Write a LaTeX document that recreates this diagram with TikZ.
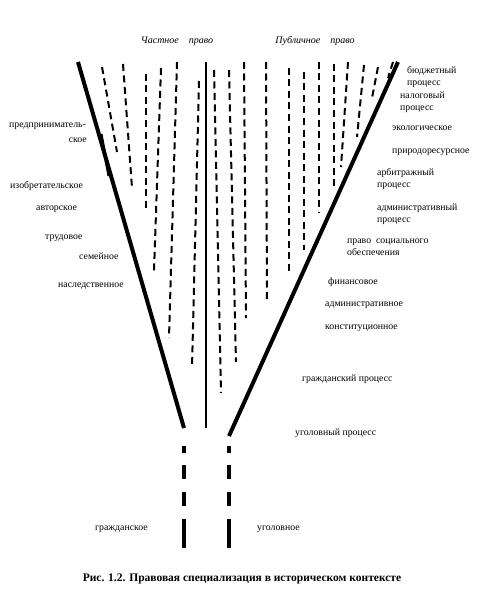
\documentclass[tikz,border=0pt]{standalone}
\usepackage{fontspec}
\setmainfont{Liberation Serif}
\usetikzlibrary{positioning}
\tikzset{
  edge/.style={line width=4pt},
  axis/.style={line width=2.4pt},
  dashln/.style={line width=2pt,dash pattern=on 7pt off 4.5pt},
  lowdash/.style={line width=3.2pt,
    dash pattern=on 7pt off 12pt on 14pt off 13pt on 14pt off 13pt on 29pt},
  lbl/.style={anchor=west,inner sep=0pt,align=left,
    font=\fontsize{9.8}{11.5}\selectfont},
  hdr/.style={inner sep=0pt,font=\fontsize{10}{12}\selectfont\itshape},
  capt/.style={inner sep=0pt,font=\fontsize{11.5}{13}\selectfont\bfseries},
}
\begin{document}
\begin{tikzpicture}[x=1pt,y=-1pt]
\useasboundingbox (0,0) rectangle (481,607);

% funnel
\coordinate (lt) at (78,62);
\coordinate (lb) at (184,428);
\coordinate (rt) at (398,62);
\coordinate (rb) at (229,436);
\coordinate (ct) at (206,62);
\coordinate (cb) at (206,428);
\draw[edge] (lt) -- (lb);
\draw[edge] (rt) -- (rb);
\draw[axis] (ct) -- (cb);
\draw[line width=3pt] (101,134) -- (109,176);

% branches
\foreach \xa/\ya/\xb/\yb in {102/67/117/152, 123/64/132/188, 146/74/146/212,
    161/68/154/271, 177/62/169/338, 199/81/192/368, 214/70/221/393,
    229/70/236/362, 244/62/246/318, 266/62/267/302, 289/68/289/271,
    304/72/304/250, 319/62/319/212, 334/64/334/188, 348/62/341/167,
    364/65/357/137, 378/67/372/98, 393/62/388/78}
  \draw[dashln] (\xa,\ya) -- (\xb,\yb);

% continuation
\coordinate (gt) at (184,446);
\coordinate (gb) at (184,548);
\coordinate (ut) at (229,446);
\coordinate (ub) at (229,548);
\draw[lowdash] (gt) -- (gb);
\draw[lowdash] (ut) -- (ub);

% headings
\node[hdr] (priv) at (177,41) {Частное\quad право};
\node[hdr] (publ) at (315,41) {Публичное\quad право};

% private branches
\node[lbl] (pred) at (9,126) {предприниматель-};
\node[lbl,anchor=east] (pred2) at (87,140) {ское};
\node[lbl] (izob) at (10,186) {изобретательское};
\node[lbl] (avt) at (36,209) {авторское};
\node[lbl] (trud) at (45,238) {трудовое};
\node[lbl] (sem) at (79,256) {семейное};
\node[lbl] (nasl) at (58,286) {наследственное};

% public branches
\node[lbl] (budg) at (407,77) {бюджетный\\процесс};
\node[lbl] (nalog) at (400,102) {налоговый\\процесс};
\node[lbl] (ekol) at (392,128) {экологическое};
\node[lbl] (prir) at (392,152) {природоресурсное};
\node[lbl] (arb) at (377,179) {арбитражный\\процесс};
\node[lbl] (admp) at (377,214) {административный\\процесс};
\node[lbl] (soc) at (347,247) {право\enspace социального\\обеспечения};
\node[lbl] (fin) at (328,282) {финансовое};
\node[lbl] (adm) at (325,305) {административное};
\node[lbl] (konst) at (325,328) {конституционное};
\node[lbl] (gpr) at (302,379) {гражданский процесс};
\node[lbl] (upr) at (295,433) {уголовный процесс};

% outcomes
\node[lbl] (grazh) at (95,529) {гражданское};
\node[lbl] (ugol) at (257,529) {уголовное};

\node[capt] (cap) at (242,579) {Рис. 1.2. Правовая специализация в историческом контексте};
\end{tikzpicture}
\end{document}
